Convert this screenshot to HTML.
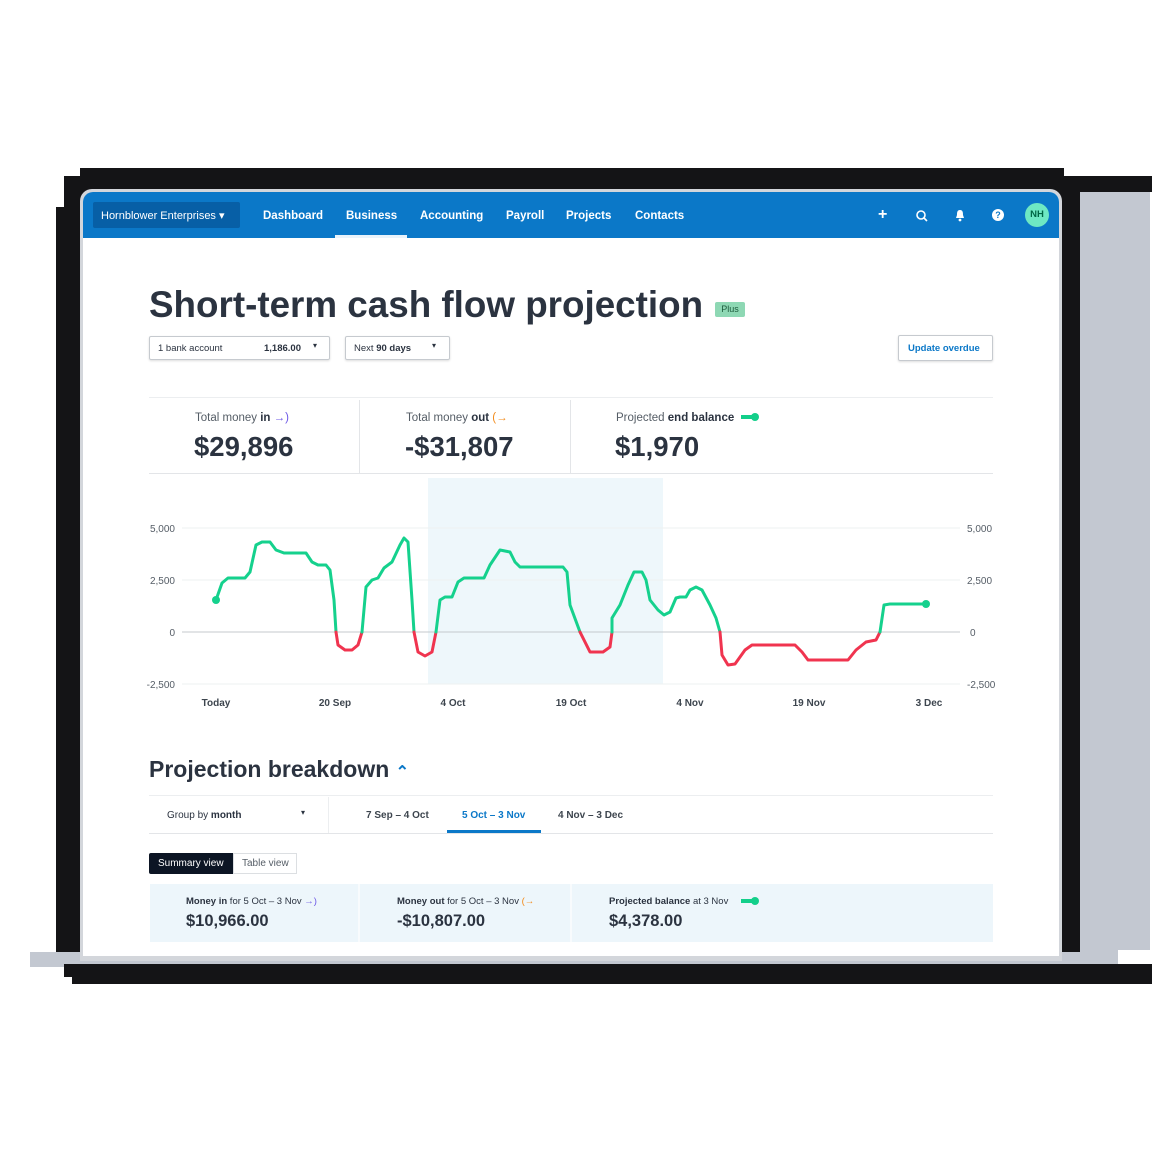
<!DOCTYPE html>
<html><head><meta charset="utf-8"><style>
*{margin:0;padding:0;box-sizing:border-box}
body{width:1154px;height:1154px;background:#fff;position:relative;overflow:hidden;font-family:"Liberation Sans",Arial,sans-serif;color:#2b3340}
.a{position:absolute}
.blk{background:#141416}
.gry{background:#c3c8d1}
.nav a{position:absolute;top:210px;color:#fff;font-weight:bold;font-size:11.5px}
.t{position:absolute;white-space:nowrap}
</style></head><body>
<div class="a blk" style="left:80px;top:168px;width:984px;height:30px"></div>
<div class="a blk" style="left:64px;top:176px;width:1088px;height:16px"></div>
<div class="a blk" style="left:64px;top:176px;width:20px;height:780px"></div>
<div class="a blk" style="left:56px;top:207px;width:28px;height:749px"></div>
<div class="a blk" style="left:1058px;top:176px;width:24px;height:780px"></div>
<div class="a gry" style="left:1080px;top:192px;width:70px;height:758px"></div>
<div class="a gry" style="left:1080px;top:940px;width:38px;height:28px"></div>
<div class="a gry" style="left:30px;top:952px;width:1050px;height:15px"></div>
<div class="a blk" style="left:64px;top:964px;width:1088px;height:13px"></div>
<div class="a blk" style="left:72px;top:968px;width:1080px;height:16px"></div>
<div class="a" style="left:80px;top:189px;width:982px;height:772px;background:#d3d6db;border-radius:12px 12px 0 0"></div>
<div class="a" style="left:83px;top:192px;width:976px;height:764px;background:#fff;border-radius:10px 10px 0 0;overflow:hidden">
 <div class="a" style="left:0;top:0;width:976px;height:46px;background:#0b78c8"></div>
</div>
<div class="a" style="left:93px;top:202px;width:147px;height:26px;background:#075fa6;border-radius:2px"></div>
<div class="t" style="left:101px;top:209px;color:#fff;font-size:11px">Hornblower Enterprises ▾</div>
<div class="nav">
<a style="left:263px">Dashboard</a><a style="left:346px">Business</a><a style="left:420px">Accounting</a><a style="left:506px">Payroll</a><a style="left:566px">Projects</a><a style="left:635px">Contacts</a>
</div>
<div class="a" style="left:335px;top:235px;width:72px;height:3px;background:#e9f3fb"></div>
<div class="t" style="left:878px;top:206px;color:#fff;font-size:16px;font-weight:bold">+</div>
<svg class="a" style="left:915px;top:209px" width="14" height="14"><circle cx="6" cy="6" r="4" stroke="#fff" stroke-width="1.6" fill="none"/><line x1="9" y1="9" x2="12" y2="12" stroke="#fff" stroke-width="1.6"/></svg>
<svg class="a" style="left:954px;top:209px" width="12" height="13"><path d="M6 1C3 1 3 4 3 6L2 9H10L9 6C9 4 9 1 6 1Z" fill="#fff"/><circle cx="6" cy="11" r="1.4" fill="#fff"/></svg>
<div class="a" style="left:992px;top:209px;width:12px;height:12px;border-radius:50%;background:#fff;color:#0b78c8;font-size:9px;font-weight:bold;text-align:center;line-height:12px">?</div>
<div class="a" style="left:1025px;top:203px;width:24px;height:24px;border-radius:50%;background:#6ee8c3;color:#064;font-size:9.5px;font-weight:bold;text-align:center;line-height:24px">NH</div>
<div class="t" style="left:149px;top:284px;font-size:36.8px;font-weight:bold">Short-term cash flow projection</div>
<div class="a" style="left:715px;top:302px;width:30px;height:15px;background:#8ed8b4;border-radius:2px;font-size:9px;color:#1c5a3c;text-align:center;line-height:15px">Plus</div>
<div class="a" style="left:149px;top:336px;width:181px;height:24px;border:1px solid #c6cacf;border-radius:2px;box-shadow:0 1px 2px #ddd"></div>
<div class="t" style="left:158px;top:343px;font-size:9.5px">1 bank account</div>
<div class="t" style="left:264px;top:343px;font-size:9.5px;font-weight:bold">1,186.00</div>
<div class="t" style="left:313px;top:341px;font-size:8px">▾</div>
<div class="a" style="left:345px;top:336px;width:105px;height:24px;border:1px solid #c6cacf;border-radius:2px;box-shadow:0 1px 2px #ddd"></div>
<div class="t" style="left:354px;top:343px;font-size:9.5px">Next <b>90 days</b></div>
<div class="t" style="left:432px;top:341px;font-size:8px">▾</div>
<div class="a" style="left:898px;top:335px;width:95px;height:26px;border:1px solid #c6cacf;border-radius:2px;box-shadow:0 1px 2px #ddd"></div>
<div class="t" style="left:908px;top:343px;font-size:9.5px;font-weight:bold;color:#0b78c8">Update overdue</div>
<div class="a" style="left:149px;top:397px;width:844px;height:1px;background:#eceef0"></div>
<div class="a" style="left:149px;top:473px;width:844px;height:1px;background:#e3e5e8"></div>
<div class="a" style="left:359px;top:400px;width:1px;height:73px;background:#e3e5e8"></div>
<div class="a" style="left:570px;top:400px;width:1px;height:73px;background:#e3e5e8"></div>
<div class="t" style="left:195px;top:412px;font-size:11.5px;color:#555d66">Total money <b style="color:#2b3340">in</b> <span style="color:#6b56e6">→)</span></div>
<div class="t" style="left:194px;top:431px;font-size:27.5px;font-weight:bold">$29,896</div>
<div class="t" style="left:406px;top:412px;font-size:11.5px;color:#555d66">Total money <b style="color:#2b3340">out</b> <span style="color:#f28a1a">(→</span></div>
<div class="t" style="left:405px;top:431px;font-size:27.5px;font-weight:bold">-$31,807</div>
<div class="t" style="left:616px;top:412px;font-size:11.5px;color:#555d66">Projected <b style="color:#2b3340">end balance</b></div>
<div class="a" style="left:741px;top:415px;width:12px;height:4px;background:#13cf8a"></div><div class="a" style="left:751px;top:413px;width:8px;height:8px;border-radius:50%;background:#13cf8a"></div>
<div class="t" style="left:615px;top:431px;font-size:27.5px;font-weight:bold">$1,970</div>
<svg class="a" style="left:0;top:0" width="1154" height="760">
<rect x="428" y="478" width="235" height="206" fill="#eef7fb"/>
<g stroke="#eef0f2" stroke-width="1"><line x1="182" y1="528" x2="960" y2="528"/><line x1="182" y1="580" x2="960" y2="580"/><line x1="182" y1="684" x2="960" y2="684"/></g>
<line x1="182" y1="632" x2="960" y2="632" stroke="#c4c8cc" stroke-width="1"/>
<g font-size="10" fill="#555d66" font-family="Liberation Sans,Arial,sans-serif">
<text x="175" y="532" text-anchor="end">5,000</text><text x="175" y="584" text-anchor="end">2,500</text><text x="175" y="636" text-anchor="end">0</text><text x="175" y="688" text-anchor="end">-2,500</text>
<text x="967" y="532">5,000</text><text x="967" y="584">2,500</text><text x="970" y="636">0</text><text x="967" y="688">-2,500</text>
</g>
<g font-size="10" font-weight="bold" fill="#3d454e" font-family="Liberation Sans,Arial,sans-serif" text-anchor="middle">
<text x="216" y="706">Today</text><text x="335" y="706">20 Sep</text><text x="453" y="706">4 Oct</text><text x="571" y="706">19 Oct</text><text x="690" y="706">4 Nov</text><text x="809" y="706">19 Nov</text><text x="929" y="706">3 Dec</text>
</g>
<g fill="none" stroke-width="3" stroke-linejoin="round" stroke-linecap="round">
<polyline stroke="#15d18d" points="216,600 222,583 228,578 245,578 250,572 256,545 262,542 270,542 276,550 284,553 306,553 312,562 318,565 326,565 330,570 334,600 336,632"/>
<polyline stroke="#f0344f" points="336,632 338,645 345,650 352,650 358,645 362,632"/>
<polyline stroke="#15d18d" points="362,632 366,587 372,580 378,578 384,568 392,562 400,545 404,538 408,542 412,600 414,632"/>
<polyline stroke="#f0344f" points="414,632 418,652 425,656 432,652 436,632"/>
<polyline stroke="#15d18d" points="436,632 440,600 445,597 452,597 458,582 464,578 484,578 490,565 500,550 510,552 515,562 520,567 563,567 567,572 570,605 580,632"/>
<polyline stroke="#f0344f" points="580,632 590,652 603,652 610,647 612,632"/>
<polyline stroke="#15d18d" points="612,632 612,618 620,605 628,585 634,572 642,572 646,580 650,600 658,610 664,615 670,612 676,598 680,597 686,597 690,590 696,587 702,590 710,605 716,618 720,632"/>
<polyline stroke="#f0344f" points="720,632 722,655 728,665 735,664 745,650 752,645 795,645 802,652 808,660 848,660 856,650 866,642 876,640 880,632"/>
<polyline stroke="#15d18d" points="880,632 884,605 890,604 926,604"/>
</g>
<circle cx="216" cy="600" r="4" fill="#15d18d"/><circle cx="926" cy="604" r="4" fill="#15d18d"/>
</svg>
<div class="t" style="left:149px;top:756px;font-size:23px;font-weight:bold">Projection breakdown <span style="color:#0b78c8;font-size:16px">⌃</span></div>
<div class="a" style="left:149px;top:795px;width:844px;height:1px;background:#eceef0"></div>
<div class="a" style="left:149px;top:833px;width:844px;height:1px;background:#e3e5e8"></div>
<div class="a" style="left:328px;top:797px;width:1px;height:36px;background:#eceef0"></div>
<div class="t" style="left:167px;top:810px;font-size:10px">Group by <b>month</b></div>
<div class="t" style="left:301px;top:808px;font-size:8px">▾</div>
<div class="t" style="left:366px;top:810px;font-size:10px;font-weight:bold;color:#3d454e">7 Sep – 4 Oct</div>
<div class="t" style="left:462px;top:810px;font-size:10px;font-weight:bold;color:#0b78c8">5 Oct – 3 Nov</div>
<div class="a" style="left:447px;top:830px;width:94px;height:3px;background:#0b78c8"></div>
<div class="t" style="left:558px;top:810px;font-size:10px;font-weight:bold;color:#3d454e">4 Nov – 3 Dec</div>
<div class="a" style="left:149px;top:853px;width:84px;height:21px;background:#0c1524;border-radius:2px 0 0 2px"></div>
<div class="t" style="left:158px;top:858px;font-size:10px;color:#fff">Summary view</div>
<div class="a" style="left:233px;top:853px;width:64px;height:21px;border:1px solid #dcdfe2"></div>
<div class="t" style="left:242px;top:858px;font-size:10px;color:#555d66">Table view</div>
<div class="a" style="left:150px;top:884px;width:843px;height:58px;background:#edf6fb"></div>
<div class="a" style="left:358px;top:884px;width:2px;height:58px;background:#fff;opacity:.6"></div>
<div class="a" style="left:570px;top:884px;width:2px;height:58px;background:#fff;opacity:.6"></div>
<div class="t" style="left:186px;top:896px;font-size:9.5px"><b>Money in</b> for 5 Oct – 3 Nov <span style="color:#6b56e6">→)</span></div>
<div class="t" style="left:186px;top:912px;font-size:16.5px;font-weight:bold">$10,966.00</div>
<div class="t" style="left:397px;top:896px;font-size:9.5px"><b>Money out</b> for 5 Oct – 3 Nov <span style="color:#f28a1a">(→</span></div>
<div class="t" style="left:397px;top:912px;font-size:16.5px;font-weight:bold">-$10,807.00</div>
<div class="t" style="left:609px;top:896px;font-size:9.5px"><b>Projected balance</b> at 3 Nov</div>
<div class="a" style="left:741px;top:899px;width:12px;height:4px;background:#13cf8a"></div><div class="a" style="left:751px;top:897px;width:8px;height:8px;border-radius:50%;background:#13cf8a"></div>
<div class="t" style="left:609px;top:912px;font-size:16.5px;font-weight:bold">$4,378.00</div>
</body></html>
